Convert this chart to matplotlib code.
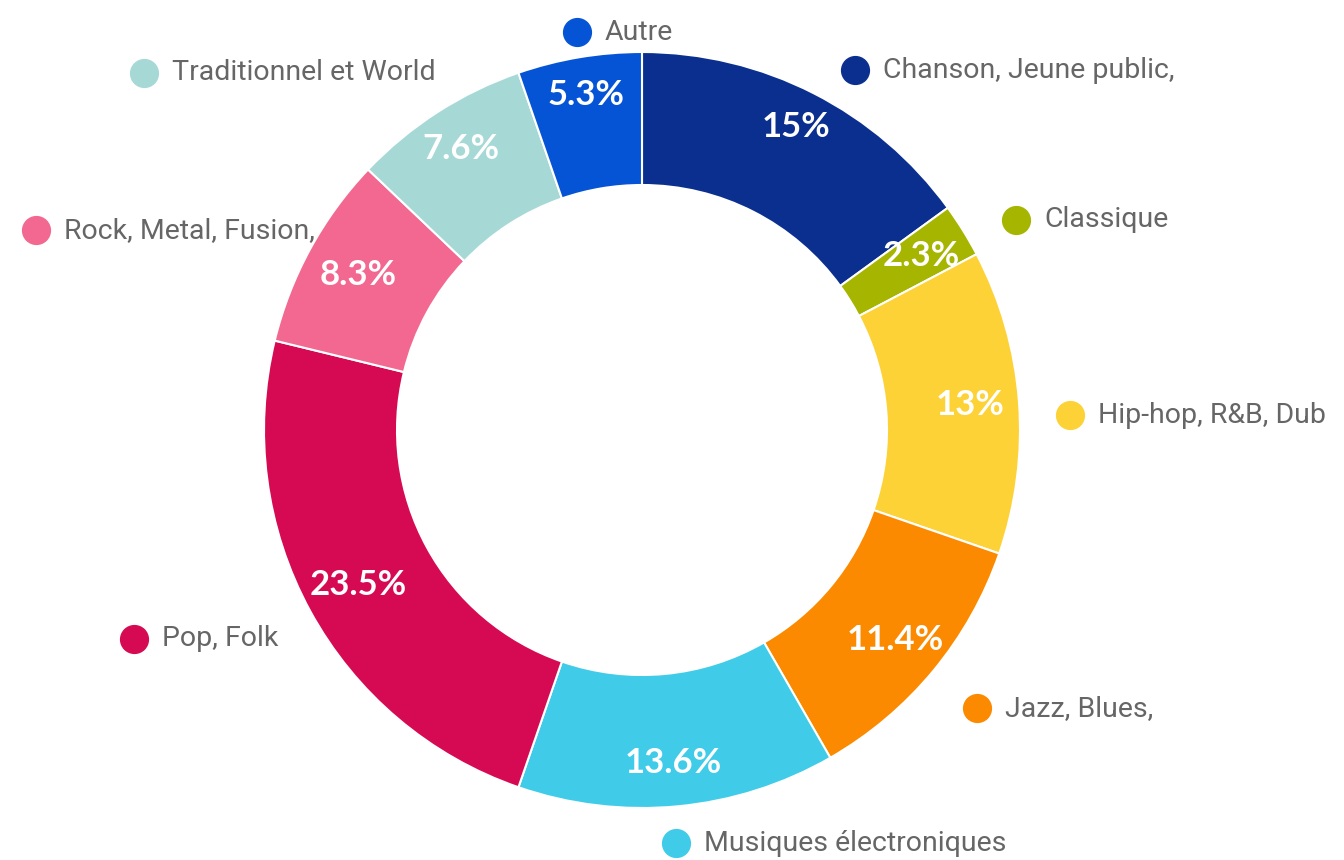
import numpy as np
import matplotlib
matplotlib.use("Agg")
import matplotlib.pyplot as plt

categories = ["Chanson, Jeune public,", "Classique", "Hip-hop, R&B, Dub", "Jazz, Blues,",
              "Musiques électroniques", "Pop, Folk", "Rock, Metal, Fusion,",
              "Traditionnel et World", "Autre"]
values = [15, 2.3, 13, 11.4, 13.6, 23.5, 8.3, 7.6, 5.3]
pct_labels = ["15%", "2.3%", "13%", "11.4%", "13.6%", "23.5%", "8.3%", "7.6%", "5.3%"]
colors = ["#0b2f8f", "#a6b500", "#fdd236", "#fb8a00", "#40cce9", "#d60a52",
          "#f36890", "#a6d9d6", "#0654d6"]

# label layout nudges (pixels, x right / y down) to mimic the reference label placement
nudge_x = [16, 5, -5, 0, -7, 18, 54, 29, 7]
nudge_y = [4, 5, 16, 18, 7, 13, -4, -14, 5]
# radial position of percentage labels (fraction of outer radius)
pct_r = [0.9, 0.87, 0.87, 0.87, 0.885, 0.855, 0.855, 0.885, 0.9]

W, H = 1344, 860
fig = plt.figure(figsize=(W / 100, H / 100), dpi=100)
ax = fig.add_axes([0, 0, 1, 1])

cx, cy = 642, 430
R = 378
ring = 133

wedges, _ = ax.pie(values, colors=colors, startangle=90, counterclock=False,
                   radius=R, center=(cx, cy), frame=True,
                   wedgeprops=dict(width=ring, edgecolor="white", linewidth=1.5))
ax.set_xlim(0, W)
ax.set_ylim(0, H)
ax.set_aspect("equal")
ax.axis("off")

total = sum(values)
cum = 0
renderer = fig.canvas.get_renderer()
for i, (v, lab, pl, col) in enumerate(zip(values, categories, pct_labels, colors)):
    mid = (cum + v / 2) / total
    cum += v
    theta = np.deg2rad(90 - mid * 360)
    # percentage label
    rp = R * pct_r[i]
    ax.text(cx + rp * np.cos(theta), cy + rp * np.sin(theta), pl, color="white",
            fontsize=25, fontweight="bold", family="Lato", ha="center", va="center")
    # outside label
    lx = cx + 1.15 * R * np.cos(theta) + nudge_x[i]
    ly = cy + 1.08 * R * np.sin(theta) - nudge_y[i]
    if np.cos(theta) >= -0.2:
        ax.plot(lx, ly, "o", color=col, markersize=20, zorder=5)
        ax.text(lx + 28, ly, lab, color="#666666", fontsize=20.5, family="Roboto",
                ha="left", va="center")
    else:
        t = ax.text(lx, ly, lab, color="#666666", fontsize=20.5, family="Roboto",
                    ha="right", va="center")
        bb = t.get_window_extent(renderer=renderer)
        x0 = ax.transData.inverted().transform((bb.x0, bb.y0))[0]
        ax.plot(x0 - 28, ly, "o", color=col, markersize=20, zorder=5)

fig.savefig("out.png", dpi=100, facecolor="white")
